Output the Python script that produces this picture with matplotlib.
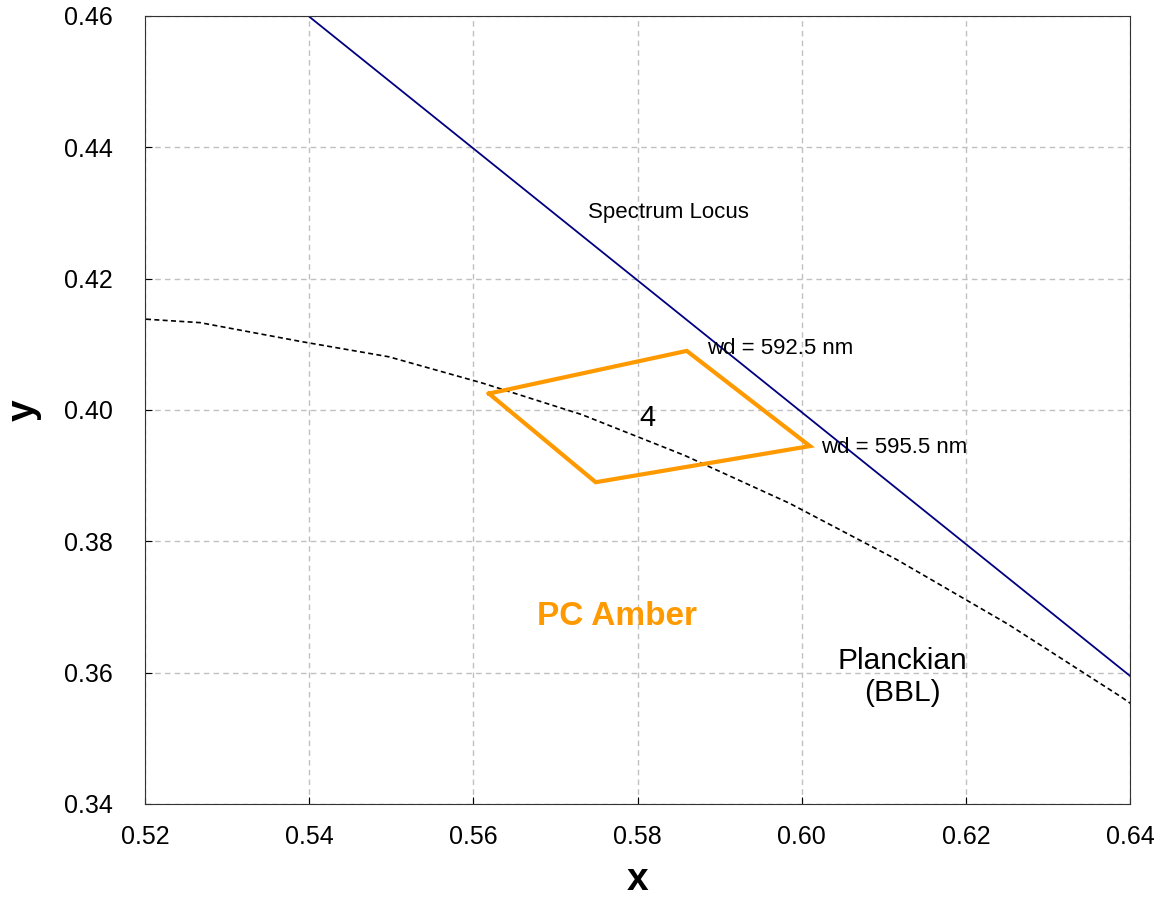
import matplotlib
matplotlib.use("Agg")
import matplotlib.pyplot as plt

plt.rcParams['font.family'] = ['Liberation Sans', 'DejaVu Sans']

# Spectrum locus (segment visible in this window)
locus_x = [0.5399, 0.64]
locus_y = [0.46, 0.3595]

# Planckian locus (black body line)
bbl_x = [0.5029, 0.5267, 0.5391, 0.5497, 0.5611, 0.5732, 0.5857, 0.5985, 0.6116, 0.6251, 0.6388, 0.6528]
bbl_y = [0.4152, 0.4133, 0.4104, 0.4081, 0.4041, 0.3993, 0.3931, 0.3858, 0.3772, 0.3674, 0.3564, 0.3444]

# PC Amber bin 4 quadrilateral
bin_x = [0.5619, 0.5860, 0.6010, 0.5749, 0.5619]
bin_y = [0.4025, 0.4090, 0.3945, 0.3890, 0.4025]

xticks = [0.52, 0.54, 0.56, 0.58, 0.60, 0.62, 0.64]
yticks = [0.34, 0.36, 0.38, 0.40, 0.42, 0.44, 0.46]

fig = plt.figure(figsize=(11.62, 8.97), dpi=100)
ax = fig.add_axes([0.1248, 0.1037, 0.8477, 0.8785])

ax.plot(locus_x, locus_y, color='#000080', linewidth=1.3)
ax.plot(bbl_x, bbl_y, color='black', linewidth=1.2, linestyle=(0, (3, 2)))
ax.plot(bin_x, bin_y, color='#FF9900', linewidth=3, solid_joinstyle='miter')

ax.set_xlim(0.52, 0.64)
ax.set_ylim(0.34, 0.46)
ax.set_xticks(xticks)
ax.set_yticks(yticks)
ax.set_xticklabels([f"{v:.2f}" for v in xticks])
ax.set_yticklabels([f"{v:.2f}" for v in yticks])
ax.tick_params(direction='in', length=5, labelsize=18)
ax.tick_params(axis='x', pad=15)
ax.tick_params(axis='y', pad=23)
ax.grid(True, color='#c0c0c0', linestyle=(0, (4, 3)), linewidth=1)
ax.set_axisbelow(True)
for s in ax.spines.values():
    s.set_color('#333333')

ax.set_xlabel('x', fontsize=28, fontweight='bold', va='center')
ax.set_ylabel('y', fontsize=28, fontweight='bold', va='center')
ax.xaxis.set_label_coords(0.5, -0.097)
ax.yaxis.set_label_coords(-0.1228, 0.5)

ax.text(0.5838, 0.4301, 'Spectrum Locus', fontsize=16, ha='center', va='center')
ax.text(0.5885, 0.4094, 'wd = 592.5 nm', fontsize=16, ha='left', va='center')
ax.text(0.6024, 0.3943, 'wd = 595.5 nm', fontsize=16, ha='left', va='center')
ax.text(0.5812, 0.3988, '4', fontsize=21, ha='center', va='center')
ax.text(0.5775, 0.3685, 'PC Amber', fontsize=24, fontweight='bold', color='#FF9900', ha='center', va='center')
ax.text(0.6123, 0.3593, 'Planckian\n(BBL)', fontsize=21.5, ha='center', va='center', linespacing=1.2)

fig.savefig('out.png', dpi=100)
